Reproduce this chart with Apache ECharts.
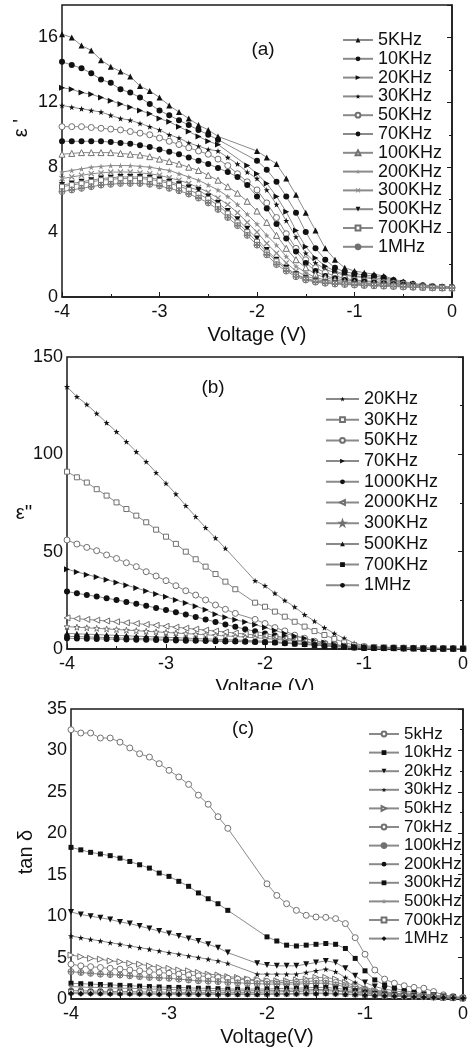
<!DOCTYPE html>
<html>
<head>
<meta charset="utf-8">
<script src="https://cdn.jsdelivr.net/npm/echarts@6/dist/echarts.min.js"></script>
<style>
  html, body { margin: 0; padding: 0; background: #fff; }
  #wrap { position: relative; width: 471px; height: 1047px; overflow: hidden; }
  .panel { position: absolute; left: 0; width: 471px; }
</style>
</head>
<body>
<div id="wrap">
  <div id="pa" class="panel" style="top:0;height:348px"></div>
  <div id="pb" class="panel" style="top:338px;height:352px"></div>
  <div id="pc" class="panel" style="top:690px;height:357px"></div>
</div>
<script>
// bias voltage (V), shared by all three panels
const voltage = [-4.0, -3.9, -3.8, -3.7, -3.6, -3.5, -3.4, -3.3, -3.2, -3.1, -3.0,
  -2.9, -2.8, -2.7, -2.6, -2.5, -2.4, -2.3, -2.2, -2.1, -2.0,
  -1.9, -1.8, -1.7, -1.6, -1.5, -1.4, -1.3, -1.2, -1.1, -1.0,
  -0.9, -0.8, -0.7, -0.6, -0.5, -0.4, -0.3, -0.2, -0.1, 0.0];

const xTicks = { min: -4, max: 0, interval: 1 };

// (a) real permittivity
const aNames = ["5KHz", "10KHz", "20KHz", "30KHz", "50KHz", "70KHz", "100KHz", "200KHz", "300KHz", "500KHz", "700KHz", "1MHz"];
const a5k = [16.2, 16.0, 15.5, 15.2, 14.6, 14.2, 13.9, 13.6, 13.0, 12.7, 12.3, 11.8, 11.4, 11.0, 10.6, 10.3, 9.9, null, null, null, 9.0, 8.6, 8.2, 7.3, 6.3, 5.2, 4.1, 3.0, 2.3, 1.8, 1.6, 1.5, 1.4, 1.3, 1.1, 0.95, 0.85, 0.75, 0.7, 0.65, 0.6];
const a10k = [14.5, 14.3, 14.1, 13.8, 13.4, 13.2, 12.8, 12.6, 12.3, 11.9, 11.5, 11.2, 10.9, 10.6, 10.3, 10.0, 9.7, null, null, null, 8.4, 7.85, 7.1, 6.2, 5.2, 4.0, 3.0, 2.3, 1.8, 1.55, 1.45, 1.35, 1.3, 1.2, 1.05, 0.9, 0.8, 0.72, 0.66, 0.62, 0.6];
const a20k = [12.9, 12.8, 12.6, 12.5, 12.3, 12.1, 11.9, 11.7, 11.5, 11.3, 11.0, 10.8, 10.5, 10.2, 9.9, 9.6, 9.4, null, null, 8.1, 7.6, 7.0, 6.2, 5.25, 4.1, 3.1, 2.4, 1.9, 1.6, 1.4, 1.3, 1.25, 1.2, 1.1, 1.0, 0.88, 0.78, 0.7, 0.65, 0.62, 0.6];
const a30k = [11.8, 11.7, 11.6, 11.5, 11.4, 11.2, 11.0, 10.9, 10.7, 10.5, 10.3, 10.0, 9.8, 9.5, 9.3, 9.1, 9.0, 8.6, 8.2, 7.7, 7.3, 6.6, 5.7, 4.7, 3.7, 2.7, 2.1, 1.7, 1.5, 1.35, 1.25, 1.2, 1.1, 1.0, 0.95, 0.85, 0.75, 0.7, 0.65, 0.62, 0.6];
const a50k = [10.5, 10.5, 10.5, 10.45, 10.4, 10.35, 10.3, 10.2, 10.1, 10.0, 9.8, 9.6, 9.4, 9.2, 9.0, 8.8, 8.5, 8.1, 7.6, 7.1, 6.6, 5.8, 4.9, 3.9, 3.0, 2.3, 1.8, 1.5, 1.3, 1.15, 1.05, 1.0, 0.95, 0.9, 0.85, 0.8, 0.72, 0.68, 0.64, 0.61, 0.6];
const a70k = [9.6, 9.6, 9.6, 9.6, 9.6, 9.55, 9.5, 9.45, 9.35, 9.25, 9.1, 8.95, 8.8, 8.6, 8.4, 8.2, 7.95, 7.7, 7.4, 6.9, 6.2, 5.45, 4.5, 3.6, 2.8, 2.1, 1.6, 1.3, 1.15, 1.05, 1.0, 0.95, 0.9, 0.85, 0.8, 0.75, 0.7, 0.66, 0.63, 0.6, 0.6];
const a100k = [8.8, 8.85, 8.9, 8.9, 8.9, 8.9, 8.85, 8.8, 8.75, 8.65, 8.5, 8.35, 8.2, 8.0, 7.8, 7.5, 7.2, 6.8, 6.4, 5.9, 5.3, 4.6, 3.8, 3.0, 2.3, 1.8, 1.4, 1.2, 1.05, 0.95, 0.9, 0.85, 0.82, 0.8, 0.75, 0.7, 0.66, 0.63, 0.6, 0.58, 0.57];
const a200k = [7.7, 7.8, 7.9, 8.0, 8.05, 8.1, 8.1, 8.1, 8.05, 8.0, 7.9, 7.8, 7.6, 7.4, 7.2, 6.9, 6.6, 6.2, 5.7, 5.1, 4.5, 3.8, 3.2, 2.5, 1.9, 1.5, 1.2, 1.05, 0.95, 0.9, 0.85, 0.8, 0.78, 0.75, 0.72, 0.68, 0.65, 0.62, 0.6, 0.58, 0.57];
const a300k = [7.3, 7.4, 7.5, 7.6, 7.65, 7.7, 7.7, 7.7, 7.65, 7.6, 7.5, 7.35, 7.2, 7.0, 6.75, 6.45, 6.1, 5.7, 5.2, 4.6, 4.0, 3.3, 2.7, 2.1, 1.6, 1.3, 1.1, 0.95, 0.9, 0.85, 0.8, 0.78, 0.75, 0.72, 0.7, 0.66, 0.63, 0.6, 0.58, 0.57, 0.56];
const a500k = [6.9, 7.0, 7.1, 7.2, 7.3, 7.35, 7.4, 7.4, 7.4, 7.35, 7.25, 7.1, 6.95, 6.75, 6.6, 6.2, 5.8, 5.3, 4.8, 4.2, 3.6, 2.9, 2.3, 1.8, 1.4, 1.15, 1.0, 0.9, 0.85, 0.8, 0.78, 0.75, 0.72, 0.7, 0.67, 0.64, 0.62, 0.6, 0.58, 0.57, 0.56];
const a700k = [6.8, 6.9, 7.0, 7.1, 7.2, 7.25, 7.3, 7.3, 7.3, 7.25, 7.15, 7.0, 6.85, 6.6, 6.35, 6.05, 5.65, 5.15, 4.6, 4.0, 3.4, 2.75, 2.2, 1.7, 1.35, 1.1, 0.95, 0.88, 0.83, 0.8, 0.76, 0.73, 0.7, 0.68, 0.66, 0.63, 0.61, 0.59, 0.57, 0.56, 0.55];
const a1m = [6.5, 6.6, 6.7, 6.8, 6.9, 6.95, 7.0, 7.0, 7.0, 6.95, 6.85, 6.7, 6.55, 6.35, 6.1, 5.8, 5.4, 4.9, 4.4, 3.8, 3.2, 2.6, 2.0, 1.6, 1.25, 1.05, 0.92, 0.85, 0.8, 0.77, 0.74, 0.71, 0.69, 0.67, 0.65, 0.62, 0.6, 0.58, 0.56, 0.55, 0.55];
const aTicks = { min: 0, max: 18, interval: 4 };

// (b) imaginary permittivity
const bNames = ["20KHz", "30KHz", "50KHz", "70KHz", "1000KHz", "2000KHz", "300KHz", "500KHz", "700KHz", "1MHz"];
const b20k = [134.7, 129.6, 125.6, 121.0, 116.2, 111.6, 106.5, 101.3, 96.2, 90.6, 85.1, 79.6, 73.6, 68.0, 62.3, 57.0, 51.7, null, null, 35.1, 32.5, 28.6, 24.9, 21.6, 17.6, 14.3, 10.9, 8.0, 5.5, 3.0, 1.8, 1.3, 1.0, 0.8, 0.6, 0.5, 0.4, 0.3, 0.3, 0.2, 0.2];
const b30k = [91.1, 88.2, 85.5, 82.1, 78.8, 75.3, 71.9, 68.5, 65.1, 61.3, 57.7, 54.0, 50.0, 46.1, 42.3, 38.5, 34.6, 30.7, null, 23.8, 21.7, 19.2, 16.6, 14.0, 11.5, 9.2, 7.2, 5.2, 3.4, 2.0, 1.3, 1.0, 0.8, 0.7, 0.6, 0.5, 0.4, 0.35, 0.3, 0.25, 0.2];
const b50k = [56.0, 53.9, 52.2, 50.5, 48.3, 46.5, 44.3, 42.3, 39.7, 37.5, 35.1, 32.5, 29.9, 27.7, 25.2, 22.6, 20.4, 18.3, null, 15.2, 13.1, 11.0, 9.3, 7.1, 5.5, 4.0, 3.0, 2.2, 1.5, 1.1, 0.9, 0.7, 0.6, 0.5, 0.45, 0.4, 0.35, 0.3, 0.25, 0.2, 0.2];
const b70k = [41.0, 39.6, 38.2, 37.0, 35.6, 34.2, 32.8, 31.3, 29.8, 28.3, 26.8, 25.2, 23.6, 22.0, 20.2, 17.8, 16.3, 15.0, 13.9, 12.5, 11.0, 9.5, 8.0, 6.7, 5.5, 4.3, 3.3, 2.4, 1.7, 1.2, 0.9, 0.7, 0.6, 0.5, 0.45, 0.4, 0.35, 0.3, 0.25, 0.2, 0.2];
const b1000k = [29.5, 28.6, 27.8, 27.0, 26.1, 25.2, 24.2, 23.2, 22.2, 21.1, 20.0, 18.9, 17.7, 16.5, 15.2, 13.9, 12.6, 11.4, 10.2, 9.1, 8.0, 6.9, 5.8, 4.8, 3.9, 3.0, 2.3, 1.7, 1.2, 0.9, 0.7, 0.6, 0.5, 0.5, 0.4, 0.4, 0.3, 0.3, 0.25, 0.2, 0.2];
const b2000k = [16.0, 15.6, 15.2, 14.8, 14.4, 14.0, 13.5, 13.1, 12.6, 12.2, 11.7, 11.2, 10.7, 10.2, 9.7, 9.2, 8.7, 8.2, 7.7, 7.2, 6.7, 6.0, 5.3, 4.6, 3.8, 3.1, 2.4, 1.8, 1.3, 1.0, 0.8, 0.7, 0.6, 0.5, 0.45, 0.4, 0.35, 0.3, 0.25, 0.2, 0.2];
const b300k = [11.5, 11.2, 10.9, 10.6, 10.3, 10.0, 9.7, 9.4, 9.1, 8.8, 8.5, 8.2, 7.9, 7.6, 7.3, 7.0, 6.7, 6.4, 6.1, 5.8, 5.4, 5.0, 4.5, 4.0, 3.4, 2.8, 2.2, 1.7, 1.3, 1.0, 0.8, 0.7, 0.6, 0.5, 0.45, 0.4, 0.35, 0.3, 0.25, 0.2, 0.2];
const b500k = [8.0, 7.8, 7.6, 7.4, 7.2, 7.0, 6.8, 6.6, 6.4, 6.2, 6.0, 5.8, 5.6, 5.4, 5.2, 5.0, 4.8, 4.6, 4.4, 4.2, 4.0, 3.7, 3.4, 3.0, 2.6, 2.2, 1.8, 1.4, 1.1, 0.9, 0.7, 0.6, 0.5, 0.45, 0.4, 0.35, 0.3, 0.3, 0.25, 0.2, 0.2];
const b700k = [6.5, 6.35, 6.2, 6.05, 5.9, 5.75, 5.6, 5.45, 5.3, 5.15, 5.0, 4.85, 4.7, 4.55, 4.4, 4.25, 4.1, 3.95, 3.8, 3.65, 3.5, 3.25, 3.0, 2.7, 2.35, 2.0, 1.6, 1.25, 1.0, 0.8, 0.65, 0.55, 0.5, 0.45, 0.4, 0.35, 0.3, 0.3, 0.25, 0.2, 0.2];
const b1m = [5.5, 5.4, 5.3, 5.2, 5.1, 5.0, 4.9, 4.8, 4.7, 4.6, 4.5, 4.4, 4.3, 4.2, 4.1, 4.0, 3.9, 3.8, 3.7, 3.6, 3.5, 3.3, 3.0, 2.7, 2.4, 2.0, 1.6, 1.3, 1.0, 0.8, 0.65, 0.55, 0.5, 0.45, 0.4, 0.35, 0.3, 0.3, 0.25, 0.2, 0.2];
const bTicks = { min: 0, max: 150, interval: 50 };

// (c) loss tangent
const cNames = ["5kHz", "10kHz", "20kHz", "30kHz", "50kHz", "70kHz", "100kHz", "200kHz", "300kHz", "500kHz", "700kHz", "1MHz"];
const c5k = [32.5, 32.1, 32.1, 31.5, 31.5, 31.0, 30.3, 29.6, 29.2, 28.4, 27.6, 26.8, 25.9, 24.6, 23.5, 22.0, 20.6, null, null, null, 13.9, 12.5, 11.5, 10.7, 10.1, 9.9, 9.85, 9.7, 9.1, 7.4, 5.4, 3.5, 2.4, 1.9, 1.6, 1.4, 1.3, 0.9, 0.5, 0.3, 0.2];
const c10k = [18.3, 18.0, 17.7, 17.5, 17.3, 17.0, 16.6, 16.2, 15.8, 15.2, 14.8, 14.2, 13.6, 12.8, 12.1, 11.5, 10.7, null, null, null, 7.5, 7.0, 6.5, 6.4, 6.5, 6.6, 6.7, 6.6, 6.1, 4.9, 3.4, 2.3, 1.7, 1.3, 1.0, 0.8, 0.6, 0.5, 0.3, 0.2, 0.15];
const c20k = [10.5, 10.2, 10.0, 9.8, 9.6, 9.3, 9.1, 8.8, 8.5, 8.2, 7.9, 7.6, 7.3, 7.0, 6.6, 6.2, 5.6, null, null, 4.3, 4.1, 4.0, 4.0, 4.0, 4.2, 4.4, 4.6, 4.4, 3.7, 2.8, 2.0, 1.5, 1.2, 1.0, 0.8, 0.6, 0.5, 0.4, 0.3, 0.2, 0.1];
const c30k = [7.6, 7.4, 7.2, 7.0, 6.8, 6.6, 6.4, 6.2, 6.0, 5.8, 5.6, 5.4, 5.2, 5.0, 4.8, 4.6, 4.3, null, null, 3.0, 3.0, 3.0, 3.0, 3.0, 3.2, 3.4, 3.6, 3.3, 2.6, 2.0, 1.4, 1.1, 0.9, 0.7, 0.6, 0.5, 0.4, 0.3, 0.2, 0.15, 0.1];
const c50k = [5.3, 5.1, 4.9, 4.8, 4.6, 4.5, 4.3, 4.2, 4.0, 3.8, 3.7, 3.5, 3.4, 3.2, 3.0, 2.9, 2.7, 2.6, 2.4, 2.3, 2.2, 2.2, 2.2, 2.3, 2.4, 2.6, 2.6, 2.4, 2.0, 1.6, 1.2, 1.0, 0.8, 0.7, 0.6, 0.5, 0.4, 0.3, 0.2, 0.15, 0.1];
const c70k = [4.2, 4.0, 3.9, 3.8, 3.7, 3.6, 3.5, 3.4, 3.3, 3.2, 3.1, 3.0, 2.9, 2.8, 2.7, 2.6, 2.5, 2.4, 2.3, 2.2, 2.1, 2.0, 2.0, 2.0, 2.1, 2.2, 2.2, 2.0, 1.7, 1.4, 1.1, 0.9, 0.7, 0.6, 0.5, 0.4, 0.35, 0.3, 0.2, 0.15, 0.1];
const c100k = [3.3, 3.2, 3.1, 3.0, 2.95, 2.9, 2.8, 2.7, 2.6, 2.55, 2.5, 2.4, 2.3, 2.2, 2.15, 2.1, 2.0, 1.95, 1.9, 1.85, 1.8, 1.8, 1.8, 1.8, 1.85, 1.9, 1.9, 1.7, 1.5, 1.2, 1.0, 0.8, 0.65, 0.55, 0.45, 0.4, 0.3, 0.25, 0.2, 0.15, 0.1];
const c200k = [1.0, 1.0, 0.95, 0.95, 0.9, 0.9, 0.9, 0.85, 0.85, 0.85, 0.8, 0.8, 0.8, 0.8, 0.8, 0.8, 0.8, 0.8, 0.8, 0.8, 0.85, 0.85, 0.9, 0.9, 0.95, 1.0, 1.0, 0.95, 0.85, 0.75, 0.65, 0.55, 0.5, 0.45, 0.4, 0.35, 0.3, 0.25, 0.2, 0.15, 0.1];
const c300k = [1.9, 1.85, 1.8, 1.75, 1.7, 1.65, 1.6, 1.55, 1.5, 1.45, 1.4, 1.4, 1.35, 1.3, 1.3, 1.25, 1.2, 1.2, 1.2, 1.2, 1.2, 1.25, 1.3, 1.3, 1.35, 1.4, 1.4, 1.3, 1.15, 1.0, 0.85, 0.7, 0.6, 0.5, 0.45, 0.4, 0.3, 0.25, 0.2, 0.15, 0.1];
const c500k = [1.5, 1.45, 1.4, 1.4, 1.35, 1.3, 1.3, 1.25, 1.2, 1.2, 1.15, 1.1, 1.1, 1.05, 1.05, 1.0, 1.0, 1.0, 1.0, 1.0, 1.0, 1.05, 1.05, 1.1, 1.1, 1.15, 1.15, 1.05, 0.95, 0.85, 0.75, 0.6, 0.5, 0.45, 0.4, 0.35, 0.3, 0.25, 0.2, 0.15, 0.1];
const c700k = [0.8, 0.8, 0.78, 0.76, 0.75, 0.74, 0.72, 0.7, 0.7, 0.68, 0.67, 0.66, 0.65, 0.65, 0.64, 0.63, 0.63, 0.62, 0.62, 0.62, 0.63, 0.64, 0.65, 0.67, 0.7, 0.72, 0.72, 0.68, 0.62, 0.56, 0.5, 0.45, 0.4, 0.36, 0.32, 0.28, 0.25, 0.2, 0.16, 0.12, 0.1];
const c1m = [0.65, 0.64, 0.63, 0.62, 0.61, 0.6, 0.6, 0.59, 0.58, 0.58, 0.57, 0.56, 0.56, 0.55, 0.55, 0.55, 0.55, 0.55, 0.55, 0.55, 0.56, 0.57, 0.58, 0.6, 0.62, 0.64, 0.64, 0.6, 0.55, 0.5, 0.45, 0.4, 0.36, 0.32, 0.28, 0.25, 0.22, 0.18, 0.15, 0.12, 0.1];
const cTicks = { min: 0, max: 35, interval: 5 };

const FONT = "'Liberation Sans', Arial, sans-serif";
const STAR = "path://M50,0L61.8,35.1L98.9,35.1L68.9,56.9L80.3,92.1L50,70.5L19.7,92.1L31.1,56.9L1.1,35.1L38.2,35.1Z";
const CROSS = "path://M15,0L50,35L85,0L100,15L65,50L100,85L85,100L50,65L15,100L0,85L35,50L0,15Z";
const CPLUS = "path://M50,0A50,50,0,1,1,49.9,0ZM44,8V44H8V56H44V92H56V56H92V44H56V8Z";

// marker looks: k = solid black, o = hollow grey, g = solid grey
function look(shape, fill, rot, size) {
  return { shape, fill, rot: rot || 0, size: size || 6 };
}

function makeSeries(name, values, m) {
  let itemStyle;
  if (m.fill === "k") itemStyle = { color: "#111", borderWidth: 0 };
  else if (m.fill === "g") itemStyle = { color: "#8c8c8c", borderWidth: 0 };
  else itemStyle = { color: "#fff", borderColor: "#707070", borderWidth: 1 };
  return {
    name,
    type: "line",
    data: voltage.map((v, i) => [v, values[i]]),
    connectNulls: true,
    symbol: m.shape,
    symbolRotate: m.rot,
    symbolSize: m.size,
    showAllSymbol: true,
    lineStyle: { color: "#8a8a8a", width: 1 },
    itemStyle,
    emphasis: { disabled: true },
    animation: false,
  };
}

function renderPanel(el, cfg) {
  const chart = echarts.init(el, null, { renderer: "canvas" });
  chart.setOption({
    animation: false,
    grid: {
      left: cfg.grid.left, right: cfg.grid.right, top: cfg.grid.top, height: cfg.grid.height,
      outerBoundsMode: "none", containLabel: false,
      show: true, borderColor: "#1a1a1a", borderWidth: 1.5, backgroundColor: "transparent",
    },
    xAxis: {
      type: "value", min: xTicks.min, max: xTicks.max, interval: xTicks.interval,
      name: cfg.xName, nameLocation: "middle", nameGap: cfg.xNameGap,
      nameTextStyle: { fontFamily: FONT, fontSize: 20, color: "#111" },
      axisLine: { lineStyle: { color: "#1a1a1a", width: 1.5 } },
      axisTick: { inside: true, length: 5, lineStyle: { color: "#1a1a1a" } },
      minorTick: { show: true, splitNumber: 2, length: 3, lineStyle: { color: "#1a1a1a" } },
      axisLabel: { fontFamily: FONT, fontSize: 18, color: "#111", margin: 6 },
      splitLine: { show: false },
    },
    yAxis: {
      type: "value", min: cfg.yTicks.min, max: cfg.yTicks.max, interval: cfg.yTicks.interval,
      axisLine: { show: true, lineStyle: { color: "#1a1a1a", width: 1.5 } },
      axisTick: { show: true, inside: false, length: 5, lineStyle: { color: "#1a1a1a" } },
      minorTick: { show: true, splitNumber: 2, length: 3, lineStyle: { color: "#1a1a1a" } },
      axisLabel: { fontFamily: FONT, fontSize: 18, color: "#111", margin: 4, showMaxLabel: cfg.showMaxLabel },
      splitLine: { show: false },
    },
    legend: {
      orient: "vertical", left: cfg.legend.left, top: cfg.legend.top,
      itemWidth: cfg.legend.itemWidth, itemHeight: 6, itemGap: cfg.legend.gap,
      selectedMode: false,
      data: cfg.names,
      textStyle: { fontFamily: FONT, fontSize: cfg.legend.fontSize, lineHeight: cfg.legend.lineHeight, color: "#111" },
    },
    graphic: cfg.labels.map((t) => ({
      type: "text", x: t.x, y: t.y, rotation: t.rot || 0,
      style: { text: t.text, font: `${t.size || 19}px ${FONT}`, fill: "#111", textAlign: "center", textVerticalAlign: "middle" },
    })),
    series: cfg.series,
  });
  return chart;
}

renderPanel(document.getElementById("pa"), {
  grid: { left: 62, right: 19, top: 5, height: 292 },
  yTicks: aTicks, showMaxLabel: false,
  xName: "Voltage (V)", xNameGap: 20,
  legend: { left: 337, top: 26, itemWidth: 30, gap: 0.8, lineHeight: 18, fontSize: 18 },
  names: aNames,
  labels: [
    { text: "(a)", x: 263, y: 50 },
    { text: "\u03b5 '", x: 21, y: 128, rot: Math.PI / 2, size: 20 },
  ],
  series: [
    makeSeries(aNames[0], a5k, look("triangle", "k")),
    makeSeries(aNames[1], a10k, look("circle", "k")),
    makeSeries(aNames[2], a20k, look("triangle", "k", -90)),
    makeSeries(aNames[3], a30k, look(STAR, "k")),
    makeSeries(aNames[4], a50k, look("circle", "o")),
    makeSeries(aNames[5], a70k, look("circle", "k")),
    makeSeries(aNames[6], a100k, look("triangle", "o")),
    makeSeries(aNames[7], a200k, look(STAR, "g")),
    makeSeries(aNames[8], a300k, look(CROSS, "g")),
    makeSeries(aNames[9], a500k, look("triangle", "k", 180)),
    makeSeries(aNames[10], a700k, look("rect", "o", 0, 5)),
    makeSeries(aNames[11], a1m, look(CPLUS, "o")),
  ],
});

renderPanel(document.getElementById("pb"), {
  grid: { left: 67, right: 8, top: 19, height: 292 },
  yTicks: bTicks, showMaxLabel: true,
  xName: "Voltage (V)", xNameGap: 24,
  legend: { left: 320, top: 47, itemWidth: 33, gap: 2.7, lineHeight: 18, fontSize: 18 },
  names: bNames,
  labels: [
    { text: "(b)", x: 213, y: 50 },
    { text: "\u03b5''", x: 24, y: 175, size: 20 },
  ],
  series: [
    makeSeries(bNames[0], b20k, look(STAR, "k")),
    makeSeries(bNames[1], b30k, look("rect", "o", 0, 5)),
    makeSeries(bNames[2], b50k, look("circle", "o")),
    makeSeries(bNames[3], b70k, look("triangle", "k", -90)),
    makeSeries(bNames[4], b1000k, look("circle", "k")),
    makeSeries(bNames[5], b2000k, look("triangle", "o", 90)),
    makeSeries(bNames[6], b300k, look(STAR, "o")),
    makeSeries(bNames[7], b500k, look("triangle", "k")),
    makeSeries(bNames[8], b700k, look("rect", "k", 0, 5)),
    makeSeries(bNames[9], b1m, look("circle", "k")),
  ],
});

renderPanel(document.getElementById("pc"), {
  grid: { left: 71, right: 8, top: 19, height: 290 },
  yTicks: cTicks, showMaxLabel: true,
  xName: "Voltage(V)", xNameGap: 26,
  legend: { left: 363, top: 30, itemWidth: 30, gap: 0.6, lineHeight: 18, fontSize: 17 },
  names: cNames,
  labels: [
    { text: "(c)", x: 243, y: 39 },
    { text: "tan \u03b4", x: 26, y: 162, rot: Math.PI / 2, size: 20 },
  ],
  series: [
    makeSeries(cNames[0], c5k, look("circle", "o")),
    makeSeries(cNames[1], c10k, look("rect", "k", 0, 5)),
    makeSeries(cNames[2], c20k, look("triangle", "k", 180)),
    makeSeries(cNames[3], c30k, look(STAR, "k")),
    makeSeries(cNames[4], c50k, look("triangle", "o", -90)),
    makeSeries(cNames[5], c70k, look("circle", "o")),
    makeSeries(cNames[6], c100k, look(CPLUS, "o")),
    makeSeries(cNames[7], c200k, look("circle", "k")),
    makeSeries(cNames[8], c300k, look("rect", "k", 0, 5)),
    makeSeries(cNames[9], c500k, look(STAR, "g")),
    makeSeries(cNames[10], c700k, look("rect", "o", 0, 5)),
    makeSeries(cNames[11], c1m, look("diamond", "k")),
  ],
});
</script>
</body>
</html>
